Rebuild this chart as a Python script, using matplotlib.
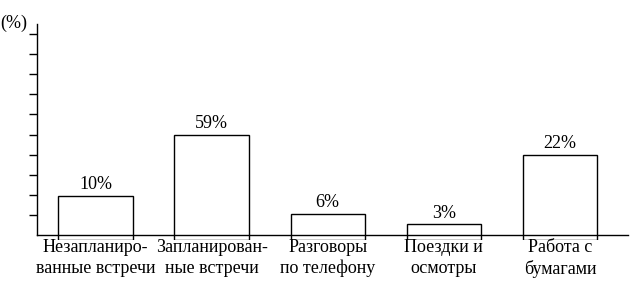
import matplotlib
matplotlib.use("Agg")
import matplotlib.pyplot as plt

categories = ["Незапланиро-\nванные встречи", "Запланирован-\nные встречи",
              "Разговоры\nпо телефону", "Поездки и\nосмотры", "Работа с\nбумагами"]
values = [10, 59, 6, 3, 22]
value_labels = ["10%", "59%", "6%", "3%", "22%"]
# bar tops as drawn in the picture, in tick units of the unlabeled axis
bar_tops = [1.95, 5.0, 1.05, 0.55, 4.0]
bar_base = -0.25
n_ticks = 10

plt.rcParams['font.family'] = ['Liberation Serif', 'DejaVu Serif']
FS = 13

W, H = 643, 295
fig = plt.figure(figsize=(W / 100, H / 100), dpi=100)
ax_l, ax_r, ax_b, ax_t = 37, 628, 240, 24
ax = fig.add_axes([ax_l / W, 1 - ax_b / H, (ax_r - ax_l) / W, (ax_b - ax_t) / H])

x = list(range(len(categories)))
heights = [t - bar_base for t in bar_tops]
ax.bar(x, heights, bottom=bar_base, width=0.64, color="white",
       edgecolor="black", linewidth=1.0, zorder=2)

for xi, top, lab in zip(x, bar_tops, value_labels):
    ax.text(xi, top + 0.12, lab, ha="center", va="bottom", fontsize=FS)

ax.set_xlim(-0.504, 4.586)
ax.set_ylim(bar_base, 10.5)
ax.spines['top'].set_visible(False)
ax.spines['right'].set_visible(False)
ax.spines['bottom'].set_position(('data', 0))
ax.spines['left'].set_linewidth(1.0)
ax.spines['bottom'].set_linewidth(1.0)
ax.spines['left'].set_bounds(0, 10.5)
ax.spines['bottom'].set_zorder(3)

ax.set_yticks(range(1, n_ticks + 1))
ax.set_yticklabels([])
ax.tick_params(axis='y', direction='out', length=6, width=1.0)
ax.set_xticks([])

for xi, cat in zip(x, categories):
    ax.text(xi, -0.22, cat, ha="center", va="top", fontsize=FS,
            linespacing=1.25, multialignment="center", zorder=4)

fig.text(0, 1 - 23 / H, "(%)", ha="left", va="center", fontsize=FS)

fig.savefig("out.png", dpi=100)
